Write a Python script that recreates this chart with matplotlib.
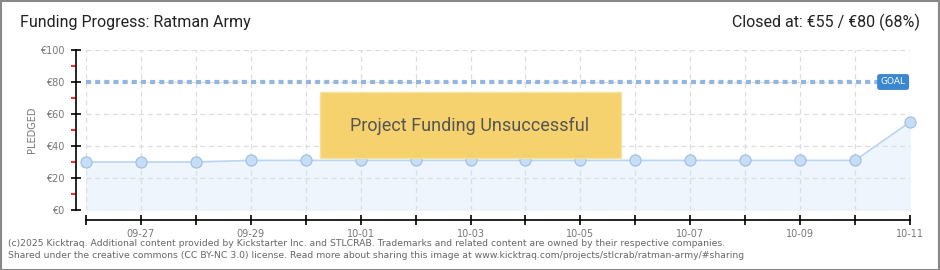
import matplotlib.pyplot as plt
from matplotlib.patches import Rectangle
from matplotlib.ticker import MultipleLocator, FixedLocator, FuncFormatter

# data
dates = ['09-26', '09-27', '09-28', '09-29', '09-30', '10-01', '10-02', '10-03',
         '10-04', '10-05', '10-06', '10-07', '10-08', '10-09', '10-10', '10-11']
pledged = [30, 30, 30, 31, 31, 31, 31, 31, 31, 31, 31, 31, 31, 31, 31, 55]
goal = 80
x = list(range(len(dates)))

W, H = 940, 270
fig = plt.figure(figsize=(W / 100, H / 100), dpi=100)
fig.patch.set_facecolor('white')
narrow = ['Roboto', 'DejaVu Sans']

# outer frame
fig.add_artist(Rectangle((0.5 / W, 0.5 / H), 1 - 1.5 / W, 1 - 1.5 / H,
                         transform=fig.transFigure, fill=False,
                         edgecolor='#888888', linewidth=1.5))

ax = fig.add_axes([86 / W, (H - 210) / H, (910 - 86) / W, 160 / H])

grey = '#777777'
ax.grid(True, color='#dddddd', linestyle=(0, (4, 3)), linewidth=0.9)

ax.fill_between(x, pledged, 0, color='#eef5fd', zorder=1)
ax.plot(x, pledged, color='#b9d5f2', linewidth=1.2, zorder=2)
ax.plot(x, pledged, linestyle='none', marker='o', markersize=8,
        markerfacecolor='#c6ddf6', markeredgecolor='#9dbde2',
        markeredgewidth=0.8, zorder=3, clip_on=False)

# goal line
ax.axhline(goal, color='#93b6df', linestyle=(0, (1.2, 1.0)), linewidth=3, zorder=2)
ax.text(len(dates) - 1.08, goal, 'GOAL', color='white', fontsize=6.5, ha='right',
        va='center', zorder=5,
        bbox=dict(boxstyle='round,pad=0.3,rounding_size=0.2',
                  facecolor='#3a86d3', edgecolor='#3a86d3'))

ax.set_xlim(0, len(dates) - 1)
ax.set_ylim(0, 100)
ax.xaxis.set_major_locator(FixedLocator(x))
ax.xaxis.set_major_formatter(FuncFormatter(lambda v, p: dates[int(round(v))] if int(round(v)) % 2 == 1 else ''))
ax.yaxis.set_major_locator(MultipleLocator(20))
ax.yaxis.set_minor_locator(MultipleLocator(10))
ax.yaxis.set_major_formatter(FuncFormatter(lambda v, p: f'€{v:.0f}'))

# unsuccessful banner
fig.add_artist(Rectangle((320 / W, (H - 158) / H), 301 / W, 66 / H,
                         transform=fig.transFigure, facecolor='#f6d066',
                         edgecolor='#f3e3a0', linewidth=1, alpha=0.95, zorder=4))
fig.text(470 / W, (H - 126) / H, 'Project Funding Unsuccessful', fontsize=13,
         family=narrow, color='#555555', ha='center', va='center', zorder=5)

# spines
for s in ['top', 'right']:
    ax.spines[s].set_visible(False)
ax.spines['left'].set_position(('outward', 7.2))
ax.spines['bottom'].set_position(('outward', 7.2))
ax.spines['left'].set_linewidth(1.2)
ax.spines['bottom'].set_linewidth(1.2)

ax.tick_params(axis='y', which='major', direction='inout', length=7, width=1.2,
               color='black', labelsize=7, labelcolor=grey, pad=5)
ax.tick_params(axis='y', which='minor', direction='out', length=3.5, width=1.2,
               color='red')
ax.tick_params(axis='x', which='major', direction='inout', length=7, width=1.2,
               color='black', labelsize=7, labelcolor=grey, pad=3)
ax.set_ylabel('PLEDGED', fontsize=7, color=grey, labelpad=2)

# header
fig.text(20 / W, 1 - 22 / H, 'Funding Progress: Ratman Army', fontsize=11.5,
         family=narrow, color='#222222', ha='left', va='center')
fig.text(920 / W, 1 - 22 / H, 'Closed at: €55 / €80 (68%)', fontsize=11.5,
         family=narrow, color='#222222', ha='right', va='center')

# footer
fig.text(8 / W, 1 - 243 / H,
         '(c)2025 Kicktraq. Additional content provided by Kickstarter Inc. and STLCRAB. '
         'Trademarks and related content are owned by their respective companies.',
         fontsize=6.7, color='#666666', ha='left', va='center')
fig.text(8 / W, 1 - 256 / H,
         'Shared under the creative commons (CC BY-NC 3.0) license. Read more about sharing '
         'this image at www.kicktraq.com/projects/stlcrab/ratman-army/#sharing',
         fontsize=6.7, color='#666666', ha='left', va='center')

fig.savefig('out.png', dpi=100)
